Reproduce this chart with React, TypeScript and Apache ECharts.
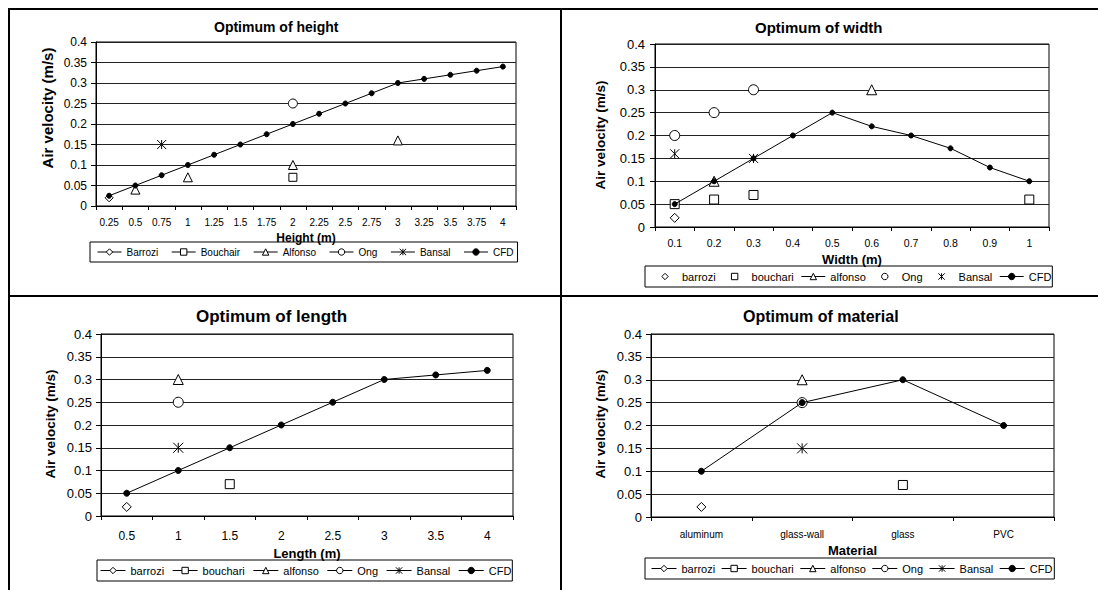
import React, { useEffect, useRef } from "react";
import * as echarts from "echarts";

const FONT = "'Liberation Sans', Arial, sans-serif";
const STAR = "path://M0,0L10,10M10,0L0,10M5,0L5,10";

// ---- Panel A: Optimum of height ----
const heightCats = ["0.25", "0.5", "0.75", "1", "1.25", "1.5", "1.75", "2", "2.25", "2.5", "2.75", "3", "3.25", "3.5", "3.75", "4"];
const hBarrozi = [0.02, null, null, null, null, null, null, null, null, null, null, null, null, null, null, null];
const hBouchair = [null, null, null, null, null, null, null, 0.07, null, null, null, null, null, null, null, null];
const hAlfonso = [null, 0.04, null, 0.07, null, null, null, 0.1, null, null, null, 0.16, null, null, null, null];
const hOng = [null, null, null, null, null, null, null, 0.25, null, null, null, null, null, null, null, null];
const hBansal = [null, null, 0.15, null, null, null, null, null, null, null, null, null, null, null, null, null];
const hCFD = [0.025, 0.05, 0.075, 0.1, 0.125, 0.15, 0.175, 0.2, 0.225, 0.25, 0.275, 0.3, 0.31, 0.32, 0.33, 0.34];

// ---- Panel B: Optimum of width ----
const widthCats = ["0.1", "0.2", "0.3", "0.4", "0.5", "0.6", "0.7", "0.8", "0.9", "1"];
const wBarrozi = [0.02, null, null, null, null, null, null, null, null, null];
const wBouchari = [0.05, 0.06, 0.07, null, null, null, null, null, null, 0.06];
const wAlfonso = [null, 0.1, null, null, null, 0.3, null, null, null, null];
const wOng = [0.2, 0.25, 0.3, null, null, null, null, null, null, null];
const wBansal = [0.16, null, 0.15, null, null, null, null, null, null, null];
const wCFD = [0.05, 0.1, 0.15, 0.2, 0.25, 0.22, 0.2, 0.172, 0.13, 0.1];

// ---- Panel C: Optimum of length ----
const lengthCats = ["0.5", "1", "1.5", "2", "2.5", "3", "3.5", "4"];
const lBarrozi = [0.02, null, null, null, null, null, null, null];
const lBouchari = [null, null, 0.07, null, null, null, null, null];
const lAlfonso = [null, 0.3, null, null, null, null, null, null];
const lOng = [null, 0.25, null, null, null, null, null, null];
const lBansal = [null, 0.15, null, null, null, null, null, null];
const lCFD = [0.05, 0.1, 0.15, 0.2, 0.25, 0.3, 0.31, 0.32];

// ---- Panel D: Optimum of material ----
const materialCats = ["aluminum", "glass-wall", "glass", "PVC"];
const mBarrozi = [0.022, null, null, null];
const mBouchari = [null, null, 0.07, null];
const mAlfonso = [null, 0.3, null, null];
const mOng = [null, 0.25, null, null];
const mBansal = [null, 0.15, null, null];
const mCFD = [0.1, 0.25, 0.3, 0.2];

const yTitle = "Air velocity (m/s)";

function marker(name: string, data: any[], symbol: string, size: number) {
  return {
    type: "line",
    name,
    data,
    symbol,
    symbolSize: size,
    showAllSymbol: true,
    connectNulls: false,
    lineStyle: { width: 0, color: "rgba(0,0,0,0)" },
    itemStyle: { color: "#fff", borderColor: "#000", borderWidth: 1 },
    emphasis: { disabled: true },
    z: 3,
  };
}

function cfdSeries(data: number[], size: number) {
  return {
    type: "line",
    name: "CFD",
    data,
    symbol: "circle",
    symbolSize: size,
    showAllSymbol: true,
    lineStyle: { width: 1, color: "#000" },
    itemStyle: { color: "#000", borderColor: "#000", borderWidth: 1 },
    emphasis: { disabled: true },
    z: 4,
  };
}

function makeOption(c: any) {
  return {
    animation: false,
    textStyle: { fontFamily: FONT, color: "#000" },
    title: {
      text: c.title,
      left: c.titleLeft,
      top: c.titleTop,
      padding: 0,
      textStyle: { fontSize: c.titleSize, fontWeight: "bold", color: "#000", fontFamily: FONT },
    },
    grid: {
      left: c.grid[0],
      right: c.grid[1],
      top: c.grid[2],
      bottom: c.grid[3],
      show: true,
      borderColor: "#000",
      borderWidth: 1,
      backgroundColor: "#fff",
    },
    legend: {
      left: c.legend.left,
      top: c.legend.top,
      padding: c.legend.padding,
      itemGap: c.legend.itemGap,
      itemWidth: c.legend.itemWidth,
      itemHeight: 8,
      borderColor: "#000",
      borderWidth: 1,
      selectedMode: false,
      textStyle: { fontSize: c.legend.fontSize, color: "#000", fontFamily: FONT },
      lineStyle: { width: 1, color: "#000", opacity: 1, type: "solid" },
      itemStyle: { borderWidth: 1 },
      data: c.legend.data,
    },
    xAxis: {
      type: "category",
      data: c.cats,
      boundaryGap: true,
      name: c.xName,
      nameLocation: "middle",
      nameGap: c.xNameGap,
      nameTextStyle: { fontSize: c.xNameSize, fontWeight: "bold", color: "#000", fontFamily: FONT },
      axisLine: { show: true, lineStyle: { color: "#000", width: 1 } },
      axisTick: { show: true, interval: 0, length: 4, lineStyle: { color: "#000" } },
      axisLabel: { interval: 0, color: "#000", fontSize: c.xLabelSize, margin: c.xLabelMargin, fontFamily: FONT },
      splitLine: { show: false },
    },
    yAxis: {
      type: "value",
      min: 0,
      max: 0.4,
      interval: 0.05,
      axisLine: { show: true, lineStyle: { color: "#000", width: 1 } },
      axisTick: { show: true, length: 5, lineStyle: { color: "#000" } },
      axisLabel: { color: "#000", fontSize: c.yLabelSize, margin: c.yLabelMargin, fontFamily: FONT },
      splitLine: { show: true, lineStyle: { color: "#222", width: 1 } },
    },
    graphic: [
      {
        type: "text",
        x: c.yName[0],
        y: c.yName[1],
        rotation: Math.PI / 2,
        style: {
          text: yTitle,
          fontSize: c.yNameSize,
          fontWeight: "bold",
          fontFamily: FONT,
          fill: "#000",
          align: "center",
          verticalAlign: "middle",
          textAlign: "center",
          textVerticalAlign: "middle",
        },
      },
    ],
    series: c.series,
  };
}

const noLine = { width: 0, color: "rgba(0,0,0,0)" };

const optA = makeOption({
  title: "Optimum of height",
  titleLeft: 214,
  titleTop: 20,
  titleSize: 14,
  grid: [96, 45, 42, 90],
  cats: heightCats,
  xName: "Height (m)",
  xNameGap: 20,
  xNameSize: 12,
  xLabelSize: 10,
  xLabelMargin: 11,
  yLabelSize: 12,
  yLabelMargin: 9,
  yName: [47, 108],
  yNameSize: 15,
  legend: {
    left: 90,
    top: 242,
    padding: [5, 4, 5, 7],
    itemGap: 13,
    itemWidth: 24,
    fontSize: 10,
    data: ["Barrozi", "Bouchair", "Alfonso", "Ong", "Bansal", "CFD"],
  },
  series: [
    marker("Barrozi", hBarrozi, "diamond", 8),
    marker("Bouchair", hBouchair, "rect", 8),
    marker("Alfonso", hAlfonso, "triangle", 9),
    marker("Ong", hOng, "circle", 9),
    marker("Bansal", hBansal, STAR, 9),
    cfdSeries(hCFD, 5),
  ],
});

const optB = makeOption({
  title: "Optimum of width",
  titleLeft: 194,
  titleTop: 20,
  titleSize: 15,
  grid: [94, 49, 44, 69],
  cats: widthCats,
  xName: "Width (m)",
  xNameGap: 20,
  xNameSize: 13,
  xLabelSize: 10.5,
  xLabelMargin: 10,
  yLabelSize: 13,
  yLabelMargin: 10,
  yName: [39, 135],
  yNameSize: 13.5,
  legend: {
    left: 84,
    top: 266,
    padding: [5, 1, 5, 8],
    itemGap: 7,
    itemWidth: 24,
    fontSize: 11,
    data: [
      { name: "barrozi", lineStyle: noLine },
      { name: "bouchari", lineStyle: noLine },
      "alfonso",
      { name: "Ong", lineStyle: noLine },
      { name: "Bansal", lineStyle: noLine },
      "CFD",
    ],
  },
  series: [
    marker("barrozi", wBarrozi, "diamond", 9),
    marker("bouchari", wBouchari, "rect", 9),
    marker("alfonso", wAlfonso, "triangle", 10),
    marker("Ong", wOng, "circle", 10),
    marker("Bansal", wBansal, STAR, 9),
    cfdSeries(wCFD, 5),
  ],
});

const optC = makeOption({
  title: "Optimum of length",
  titleLeft: 196,
  titleTop: 12,
  titleSize: 17,
  grid: [101, 48, 38, 74],
  cats: lengthCats,
  xName: "Length (m)",
  xNameGap: 25,
  xNameSize: 13,
  xLabelSize: 12,
  xLabelMargin: 14,
  yLabelSize: 13,
  yLabelMargin: 9,
  yName: [50, 128],
  yNameSize: 13.5,
  legend: {
    left: 97,
    top: 264,
    padding: [5, 1, 5, 3],
    itemGap: 8,
    itemWidth: 25,
    fontSize: 11,
    data: ["barrozi", "bouchari", "alfonso", "Ong", "Bansal", "CFD"],
  },
  series: [
    marker("barrozi", lBarrozi, "diamond", 9),
    marker("bouchari", lBouchari, "rect", 9),
    marker("alfonso", lAlfonso, "triangle", 10),
    marker("Ong", lOng, "circle", 10),
    marker("Bansal", lBansal, STAR, 10),
    cfdSeries(lCFD, 6),
  ],
});

const optD = makeOption({
  title: "Optimum of material",
  titleLeft: 182,
  titleTop: 12,
  titleSize: 16,
  grid: [90, 44, 38, 73],
  cats: materialCats,
  xName: "Material",
  xNameGap: 22,
  xNameSize: 13,
  xLabelSize: 10,
  xLabelMargin: 12,
  yLabelSize: 13,
  yLabelMargin: 9,
  yName: [39, 128],
  yNameSize: 13.5,
  legend: {
    left: 84,
    top: 262,
    padding: [5, 2, 5, 6],
    itemGap: 6,
    itemWidth: 25,
    fontSize: 11,
    data: ["barrozi", "bouchari", "alfonso", "Ong", "Bansal", "CFD"],
  },
  series: [
    marker("barrozi", mBarrozi, "diamond", 9),
    marker("bouchari", mBouchari, "rect", 9),
    marker("alfonso", mAlfonso, "triangle", 10),
    marker("Ong", mOng, "circle", 10),
    marker("Bansal", mBansal, STAR, 10),
    cfdSeries(mCFD, 6),
  ],
});

function Panel(props: { left: number; top: number; width: number; height: number; option: any }) {
  const ref = useRef<HTMLDivElement>(null);
  useEffect(() => {
    const chart = echarts.init(ref.current as HTMLDivElement, null, { renderer: "svg" });
    chart.setOption(props.option);
    return () => chart.dispose();
  }, []);
  return (
    <div
      ref={ref}
      style={{ position: "absolute", left: props.left, top: props.top, width: props.width, height: props.height }}
    />
  );
}

const frameLine = (left: number, top: number, width: number, height: number) => (
  <div style={{ position: "absolute", left, top, width, height, background: "#000", zIndex: 5 }} />
);

export default function App() {
  return (
    <div
      style={{
        position: "fixed",
        left: 0,
        top: 0,
        width: 1098,
        height: 590,
        background: "#fff",
        overflow: "hidden",
      }}
    >
      <Panel left={0} top={0} width={561} height={296} option={optA} />
      <Panel left={561} top={0} width={537} height={296} option={optB} />
      <Panel left={0} top={296} width={561} height={294} option={optC} />
      <Panel left={561} top={296} width={537} height={294} option={optD} />
      {frameLine(8, 8, 1090, 2)}
      {frameLine(8, 8, 2, 582)}
      {frameLine(560, 8, 2, 582)}
      {frameLine(8, 295, 1090, 2)}
    </div>
  );
}
